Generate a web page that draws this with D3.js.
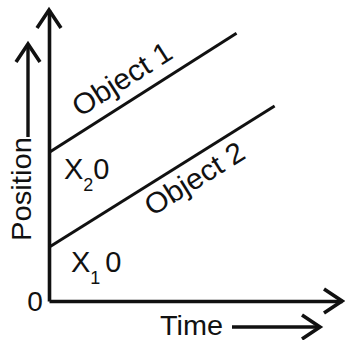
<!DOCTYPE html>
<html lang="en">
<head>
    <meta charset="UTF-8">
    <title>Position vs Time</title>
    <script src="https://d3js.org/d3.v7.min.js"></script>
    <style>
        body { margin: 0; background: #fff; }
        text { font-family: "Liberation Sans", Arial, sans-serif; fill: #111; }
    </style>
</head>
<body>
    <svg id="chart"></svg>

    <script>
        // names of the two objects
        const objects = ['Object 1', 'Object 2'];
        // start / end time of each line
        const times = [[0, 6.4], [0, 7.7]];
        // start / end position of each line
        const positions = [[5.1, 9.2], [1.85, 6.7]];
        // starting positions shown on the y axis
        const startLabels = [['X', '2', '0'], ['X', '1', '0']];

        const width = 345, height = 340;

        const svg = d3.select('#chart')
            .attr('width', width)
            .attr('height', height);

        const x = d3.scaleLinear().domain([0, 10]).range([49, 342]);
        const y = d3.scaleLinear().domain([0, 10]).range([301, 10]);

        // axes: just the domain lines, no ticks
        svg.append('g')
            .attr('transform', `translate(0,${y(0)})`)
            .call(d3.axisBottom(x).ticks(0).tickSizeOuter(0));
        svg.append('g')
            .attr('transform', `translate(${x(0)},0)`)
            .call(d3.axisLeft(y).ticks(0).tickSizeOuter(0));
        svg.selectAll('.domain')
            .attr('stroke', '#111')
            .attr('stroke-width', 3.6);

        const arrow = (pts) => svg.append('polyline')
            .attr('points', pts.map(p => p.join(',')).join(' '))
            .attr('fill', 'none')
            .attr('stroke', '#111')
            .attr('stroke-width', 3.6)
            .attr('stroke-linejoin', 'miter');

        // axis arrow heads
        const xEnd = x.range()[1], yEnd = y.range()[1];
        arrow([[xEnd - 18, y(0) - 12], [xEnd, y(0)], [xEnd - 18, y(0) + 12]]);
        arrow([[x(0) - 12, yEnd + 18], [x(0), yEnd], [x(0) + 12, yEnd + 18]]);

        // object lines
        const line = d3.line()
            .x(d => x(d[0]))
            .y(d => y(d[1]));

        const series = objects.map((name, i) => ({
            name,
            pts: times[i].map((t, j) => [t, positions[i][j]])
        }));

        svg.selectAll('path.obj')
            .data(series)
            .enter().append('path')
            .attr('class', 'obj')
            .attr('d', d => line(d.pts))
            .attr('fill', 'none')
            .attr('stroke', '#111')
            .attr('stroke-width', 3);

        // labels along the lines
        const labelT = [1.3, 3.0];
        const labelDy = [-13, 29];
        svg.selectAll('text.objlabel')
            .data(series)
            .enter().append('text')
            .attr('class', 'objlabel')
            .attr('transform', (d, i) => {
                const [p0, p1] = d.pts;
                const t = labelT[i];
                const v = p0[1] + (p1[1] - p0[1]) * (t - p0[0]) / (p1[0] - p0[0]);
                const ang = Math.atan2(y(p1[1]) - y(p0[1]), x(p1[0]) - x(p0[0])) * 180 / Math.PI;
                return `translate(${x(t)},${y(v)}) rotate(${ang})`;
            })
            .attr('y', (d, i) => labelDy[i])
            .attr('font-size', 29)
            .attr('textLength', 112)
            .attr('lengthAdjust', 'spacingAndGlyphs')
            .text(d => d.name);

        // X20 and X10 labels next to the y axis
        const startPos = [[64, 179], [71, 272]];
        startLabels.forEach((lab, i) => {
            const t = svg.append('text')
                .attr('x', startPos[i][0])
                .attr('y', startPos[i][1])
                .attr('font-size', 29);
            t.append('tspan').text(lab[0]);
            t.append('tspan').attr('font-size', 18).attr('dy', 12).text(lab[1]);
            t.append('tspan').attr('dy', -12).attr('dx', i === 1 ? 5 : 0).text(lab[2]);
        });

        // origin
        svg.append('text')
            .attr('x', 35)
            .attr('y', 311)
            .attr('text-anchor', 'middle')
            .attr('font-size', 28)
            .text('0');

        // axis titles with arrows
        svg.append('text')
            .attr('x', 160)
            .attr('y', 335)
            .attr('font-size', 28)
            .attr('textLength', 63)
            .attr('lengthAdjust', 'spacingAndGlyphs')
            .text('Time');
        svg.append('line')
            .attr('x1', 232).attr('x2', 319)
            .attr('y1', 327).attr('y2', 327)
            .attr('stroke', '#111').attr('stroke-width', 3.4);
        arrow([[302, 315], [320, 327], [302, 339]]);

        svg.append('text')
            .attr('transform', 'translate(31,241) rotate(-90)')
            .attr('font-size', 28)
            .attr('textLength', 104)
            .attr('lengthAdjust', 'spacingAndGlyphs')
            .text('Position');
        svg.append('line')
            .attr('x1', 28).attr('x2', 28)
            .attr('y1', 137).attr('y2', 46)
            .attr('stroke', '#111').attr('stroke-width', 3.4);
        arrow([[16, 62], [28, 44], [40, 62]]);
    </script>
</body>
</html>
